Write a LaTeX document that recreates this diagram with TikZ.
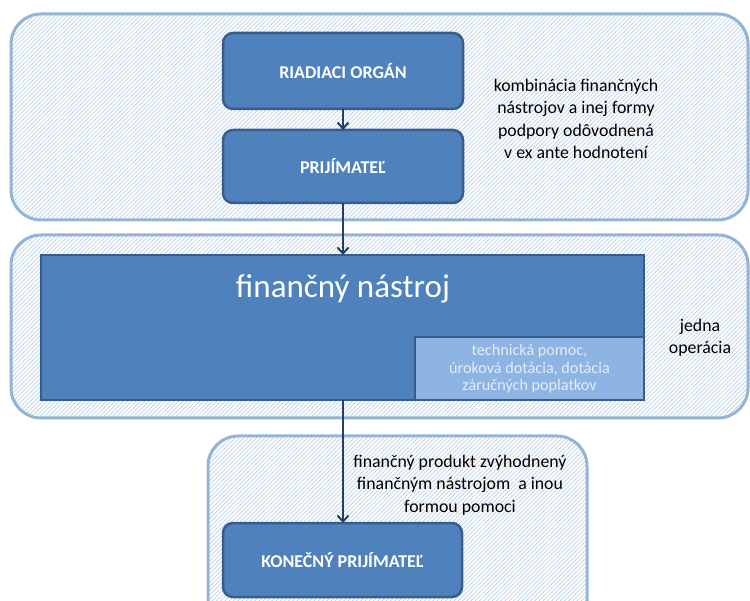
\documentclass[tikz,border=0pt]{standalone}
\usepackage{fontspec}
\setmainfont{Carlito}
\usetikzlibrary{patterns.meta,arrows.meta}
\definecolor{boxfill}{HTML}{4F81BD}
\definecolor{boxline}{HTML}{385D8A}
\definecolor{contline}{HTML}{95B3D7}
\definecolor{hatchcol}{HTML}{BCD0E8}
\definecolor{subfill}{HTML}{8EB4E3}
\definecolor{subtext}{HTML}{E4ECF7}
\definecolor{arrowcol}{HTML}{243F60}
\tikzset{
  container/.style={draw=contline, line width=3pt, rounded corners=30pt,
    preaction={fill=white},
    pattern={Lines[angle=45,distance=3pt,line width=0.7pt]}, pattern color=hatchcol},
  bluebox/.style={draw=boxline, line width=2.5pt, fill=boxfill, rounded corners=10pt},
  boxlabel/.style={text=white, font=\fontsize{18}{20}\selectfont\bfseries},
  bigbox/.style={draw=boxline, line width=2.5pt, fill=boxfill},
  subbox/.style={draw=boxline, line width=2.5pt, fill=subfill},
  plain/.style={align=center, font=\fontsize{17.8}{22.5}\selectfont, text=black},
  conn/.style={draw=arrowcol, line width=2pt, -{Straight Barb[length=6pt,width=11pt,line width=2pt]}}
}
\begin{document}
\begin{tikzpicture}[x=1pt,y=-1pt]
\useasboundingbox (0,0) rectangle (750,601);
% containers
\draw[container] (11,14) rectangle (748,220);
\draw[container] (11,235) rectangle (748,418);
\draw[container] (208,436) rectangle (587,640);
% boxes
\draw[bluebox] (223,33) rectangle (463,109);
\node[boxlabel] (ro) at (343,71) {RIADIACI ORGÁN};
\coordinate (roB) at (343,109);
\draw[bluebox] (223,130) rectangle (463,203);
\node[boxlabel] (pr) at (343,166) {PRIJÍMATEĽ};
\coordinate (prT) at (343,130);
\coordinate (prB) at (343,203);
\draw[bigbox] (41,255) rectangle (644,400);
\coordinate (fnT) at (343,255);
\coordinate (fnB) at (343,400);
\node[text=white, font=\fontsize{33}{36}\selectfont] (fn) at (343,289) {finančný nástroj};
\draw[subbox] (415,337) rectangle (644,400);
\node[align=center, text=subtext, font=\fontsize{16.2}{17.6}\selectfont] (tp) at (529.5,369) {technická pomoc,\\úroková dotácia, dotácia\\záručných poplatkov};
\draw[bluebox] (223,523) rectangle (462,597);
\node[boxlabel] (kp) at (342.5,560) {KONEČNÝ PRIJÍMATEĽ};
\coordinate (kpT) at (343,523);
% texts
\node[plain] (komb) at (576,119) {kombinácia finančných\\nástrojov a inej formy\\podpory odôvodnená\\v ex ante hodnotení};
\node[plain] (jo) at (700,338) {jedna\\operácia};
\node[plain] (fp) at (460,485) {finančný produkt zvýhodnený\\finančným nástrojom\ \ a inou\\formou pomoci};
% arrows
\draw[conn] (roB) -- (prT);
\draw[conn] (prB) -- (fnT);
\draw[conn] (fnB) -- (kpT);
\end{tikzpicture}
\end{document}
